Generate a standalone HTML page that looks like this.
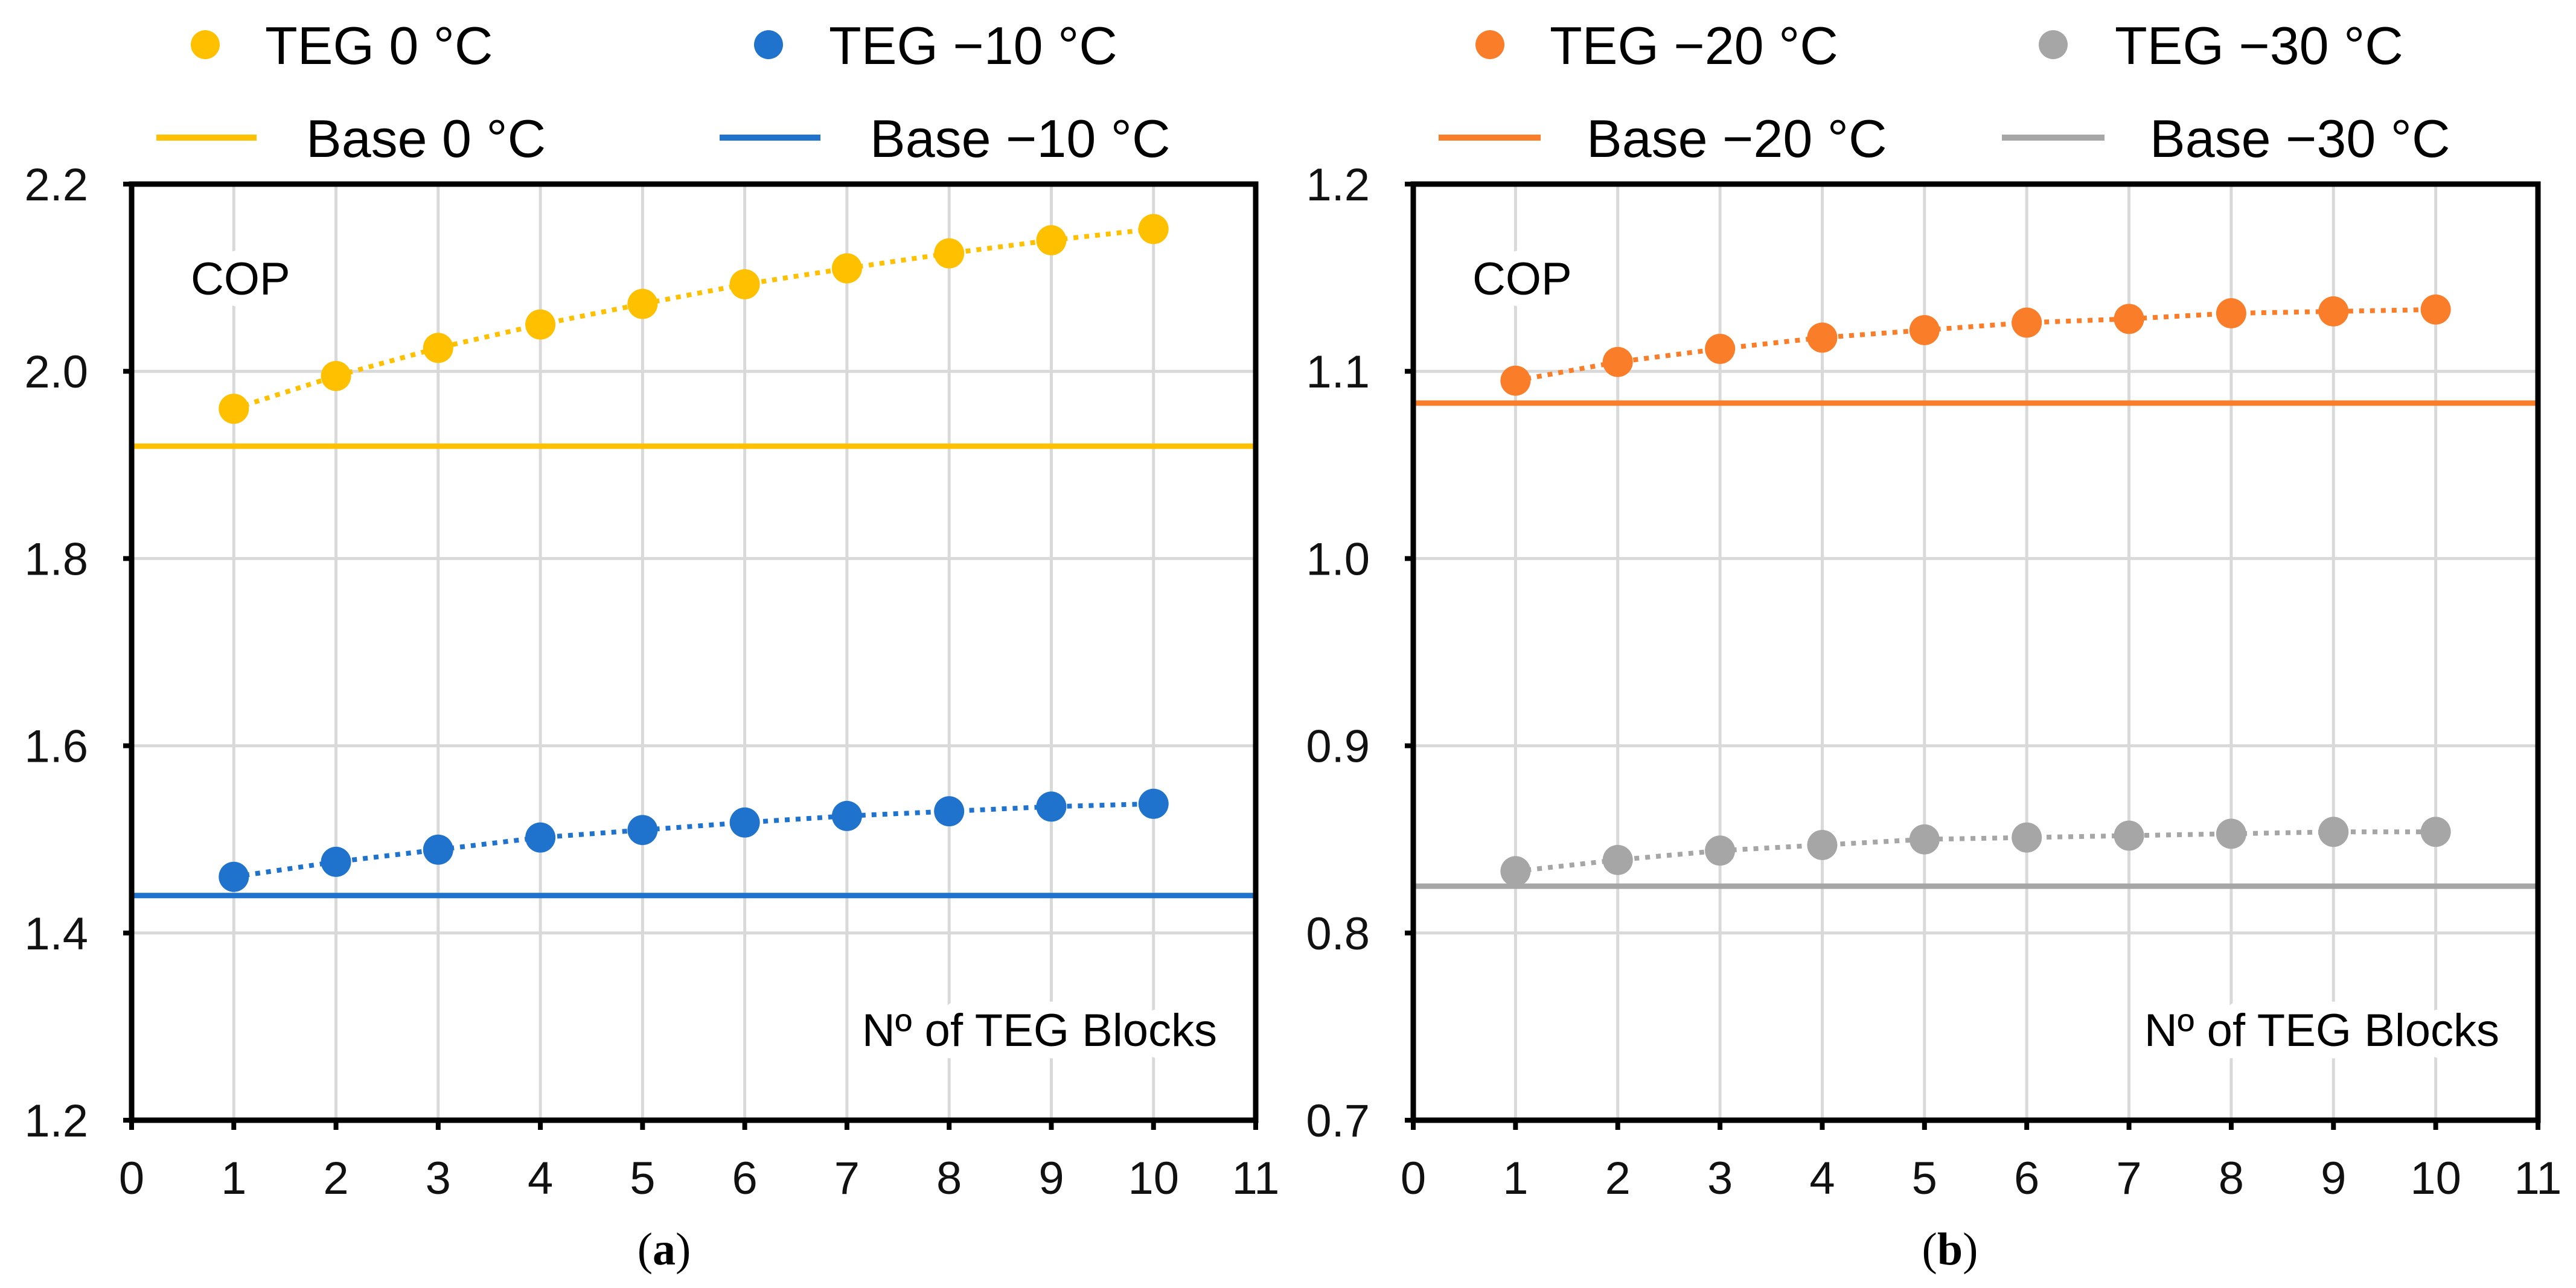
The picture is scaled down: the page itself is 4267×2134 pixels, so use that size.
<!DOCTYPE html>
<html><head><meta charset="utf-8"><style>
html,body{margin:0;padding:0;background:#fff;}
svg{display:block;font-family:"Liberation Sans",sans-serif;}
</style></head><body>
<svg id="chart" width="4267" height="2134" viewBox="0 0 4267 2134" xmlns="http://www.w3.org/2000/svg"></svg>
<script>
const xTicks=[0,1,2,3,4,5,6,7,8,9,10,11];
const blocks=[1,2,3,4,5,6,7,8,9,10];
const teg0=[1.96,1.995,2.025,2.05,2.072,2.093,2.11,2.126,2.14,2.152];
const teg10=[1.46,1.476,1.489,1.502,1.51,1.518,1.525,1.53,1.535,1.538];
const base0=1.92;
const base10=1.44;
const teg20=[1.095,1.105,1.112,1.118,1.122,1.126,1.128,1.131,1.132,1.133];
const teg30=[0.833,0.839,0.844,0.847,0.85,0.851,0.852,0.853,0.854,0.854];
const base20=1.083;
const base30=0.825;
const yTicksA=[1.2,1.4,1.6,1.8,2.0,2.2];
const yTicksB=[0.7,0.8,0.9,1.0,1.1,1.2];

const NS="http://www.w3.org/2000/svg";
const svg=document.getElementById('chart');
function el(tag,attrs,parent){const e=document.createElementNS(NS,tag);for(const k in attrs)e.setAttribute(k,attrs[k]);(parent||svg).appendChild(e);return e;}

function panel(p){
  const g=el('g',{});
  
  
  const L=p.left,R=p.right,T=305,B=1856;
  const xs=v=>L+(v-0)/(11-0)*(R-L);
  const ys=v=>B-(v-p.ymin)/(p.ymax-p.ymin)*(B-T);
  p.yticks.forEach(v=>{const l=el('line',{x1:L,x2:R,y1:ys(v),y2:ys(v),stroke:'#d9d9d9','stroke-width':5},g);
    });
  xTicks.forEach(v=>{if(v===0||v===11)return;const l=el('line',{x1:xs(v),x2:xs(v),y1:T,y2:B,stroke:'#d9d9d9','stroke-width':5},g);
    });
  const cop=el('text',{x:L+98,y:488,'font-size':76,fill:'#000',style:'paint-order:stroke',stroke:'#fff','stroke-width':40},g);
  cop.textContent='COP';
  const xt=el('text',{x:R-64,y:1733,'font-size':76,'text-anchor':'end',fill:'#000',style:'paint-order:stroke',stroke:'#fff','stroke-width':40},g);
  xt.textContent='Nº of TEG Blocks';
  p.series.forEach(s=>{
    const bl=el('line',{x1:L,x2:R,y1:ys(s.base),y2:ys(s.base),stroke:s.color,'stroke-width':9},g);
    
    const pts=blocks.map((b,i)=>xs(b)+','+ys(s.vals[i])).join(' ');
    const pl=el('polyline',{points:pts,fill:'none',stroke:s.color,'stroke-width':8,'stroke-dasharray':'8 10'},g);
    
    blocks.forEach((b,i)=>{const c=el('circle',{cx:xs(b),cy:ys(s.vals[i]),r:25,fill:s.color},g);
      });
  });
  const fr=el('rect',{x:L,y:T,width:R-L,height:B-T,fill:'none',stroke:'#000','stroke-width':9},g);
  
  p.yticks.forEach(v=>{
    const tk=el('line',{x1:L-14,x2:L,y1:ys(v),y2:ys(v),stroke:'#000','stroke-width':8},g);
    
    const t=el('text',{x:L-72,y:ys(v)+27,'font-size':76,'text-anchor':'end',fill:'#111'},g);
    t.textContent=v.toFixed(1);
  });
  xTicks.forEach(v=>{
    const tk=el('line',{x1:xs(v),x2:xs(v),y1:B,y2:B+16,stroke:'#000','stroke-width':8},g);
    
    const t=el('text',{x:xs(v),y:1978,'font-size':76,'text-anchor':'middle',fill:'#111'},g);
    t.textContent=String(v);
  });
  const cap=el('text',{x:p.capX,y:2095,'font-size':76,'text-anchor':'middle',fill:'#000','font-family':'Liberation Serif, serif'},g);
  cap.innerHTML='(<tspan font-weight="bold">'+p.cap+'</tspan>)';
  
  p.legend.forEach(e=>{
    const lg=el('g',{},g);
    
    if(e.type==='dot'){el('circle',{cx:e.mx,cy:74,r:24,fill:e.color},lg);}
    else{el('line',{x1:e.mx,x2:e.mx2,y1:228,y2:228,stroke:e.color,'stroke-width':10},lg);}
    const t=el('text',{x:e.tx,y:e.type==='dot'?106:260,'font-size':88,fill:'#000'},lg);
    t.textContent=e.label;
  });
}
panel({name:'panel-a',left:218,right:2080,ymin:1.2,ymax:2.2,yticks:yTicksA,capX:1100,cap:'a',
 series:[{vals:teg0,base:base0,color:'#FFC000',baseName:'base-0c-line',lineName:'teg-0c-line',pointName:'teg-0c-point'},
         {vals:teg10,base:base10,color:'#1F73CC',baseName:'base-minus10c-line',lineName:'teg-minus10c-line',pointName:'teg-minus10c-point'}],
 legend:[{type:'dot',mx:340,tx:439,color:'#FFC000',label:'TEG 0 °C'},
         {type:'dot',mx:1273,tx:1373,color:'#1F73CC',label:'TEG −10 °C'},
         {type:'line',mx:259,mx2:425,tx:507,color:'#FFC000',label:'Base 0 °C'},
         {type:'line',mx:1192,mx2:1359,tx:1441,color:'#1F73CC',label:'Base −10 °C'}]});
panel({name:'panel-b',left:2341,right:4204,ymin:0.7,ymax:1.2,yticks:yTicksB,capX:3230,cap:'b',
 series:[{vals:teg20,base:base20,color:'#FA7E2A',baseName:'base-minus20c-line',lineName:'teg-minus20c-line',pointName:'teg-minus20c-point'},
         {vals:teg30,base:base30,color:'#A6A6A6',baseName:'base-minus30c-line',lineName:'teg-minus30c-line',pointName:'teg-minus30c-point'}],
 legend:[{type:'dot',mx:2468,tx:2567,color:'#FA7E2A',label:'TEG −20 °C'},
         {type:'dot',mx:3401,tx:3503,color:'#A6A6A6',label:'TEG −30 °C'},
         {type:'line',mx:2383,mx2:2552,tx:2628,color:'#FA7E2A',label:'Base −20 °C'},
         {type:'line',mx:3316,mx2:3486,tx:3561,color:'#A6A6A6',label:'Base −30 °C'}]});
</script>
</body></html>
